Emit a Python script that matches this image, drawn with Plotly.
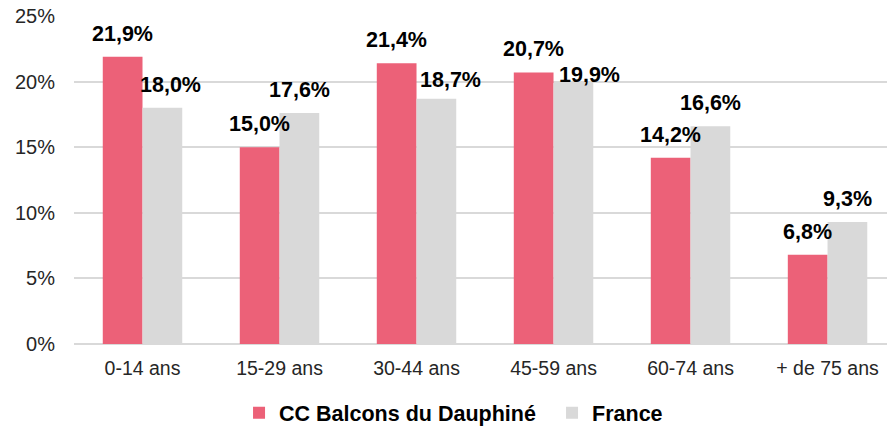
import plotly.graph_objects as go

# Population par tranche d'âge (part en %)
categories = ["0-14 ans", "15-29 ans", "30-44 ans", "45-59 ans", "60-74 ans", "+ de 75 ans"]
cc_balcons = [21.9, 15.0, 21.4, 20.7, 14.2, 6.8]
france = [18.0, 17.6, 18.7, 19.9, 16.6, 9.3]

series_names = ["CC Balcons du Dauphiné", "France"]
colors = ["#EC6178", "#D9D9D9"]

# nudges (px) applied to a few value labels so they do not collide
france_label_nudge = {0: (8, 0), 2: (14, -4), 3: (16, -15)}

FONT = "Liberation Sans, Arial, sans-serif"

fig = go.Figure()
for name, vals, col in zip(series_names, [cc_balcons, france], colors):
    fig.add_trace(go.Bar(
        name=name,
        x=categories,
        y=[v / 100 for v in vals],
        marker=dict(color=col, line=dict(width=0)),
        hoverinfo="skip",
    ))

bar_half = 0.145
annotations = []
for s, vals in enumerate([cc_balcons, france]):
    offset = -bar_half if s == 0 else bar_half
    for i, v in enumerate(vals):
        dx, dy = (0, 0)
        if s == 1 and i in france_label_nudge:
            dx, dy = france_label_nudge[i]
        annotations.append(dict(
            x=i + offset, y=v / 100, xref="x", yref="y",
            text=f"{v:.1f}%".replace(".", ","),
            showarrow=False, xanchor="center", yanchor="bottom",
            xshift=dx, yshift=9 + dy,
            font=dict(family=FONT, size=21.5, color="#000000", weight="bold"),
        ))

fig.update_layout(
    width=887, height=426,
    margin=dict(l=74, r=0, t=16, b=82, autoexpand=False),
    paper_bgcolor="white", plot_bgcolor="white",
    barmode="group", bargap=0.42, bargroupgap=0,
    annotations=annotations,
    showlegend=True,
    legend=dict(
        orientation="h", x=0.203, xanchor="left", y=-0.21, yanchor="middle",
        font=dict(family=FONT, size=21.5, color="#000000", weight="bold"),
        itemwidth=30, traceorder="normal",
        entrywidth=268, entrywidthmode="pixels",
    ),
    font=dict(family=FONT),
)
fig.update_xaxes(
    type="category", range=[-0.5, 5.434],
    showgrid=False, showline=False, ticks="",
    tickfont=dict(family=FONT, size=19.5, color="#262626"),
    ticklabelstandoff=10,
)
fig.update_yaxes(
    range=[0, 0.25], dtick=0.05, tickformat=".0%",
    showgrid=True, gridcolor="#D9D9D9", gridwidth=1.5,
    zeroline=True, zerolinecolor="#D9D9D9", zerolinewidth=1.5,
    showline=False, ticks="",
    tickfont=dict(family=FONT, size=20, color="#262626"),
    ticklabelstandoff=18,
)

fig.write_html("out.html")
